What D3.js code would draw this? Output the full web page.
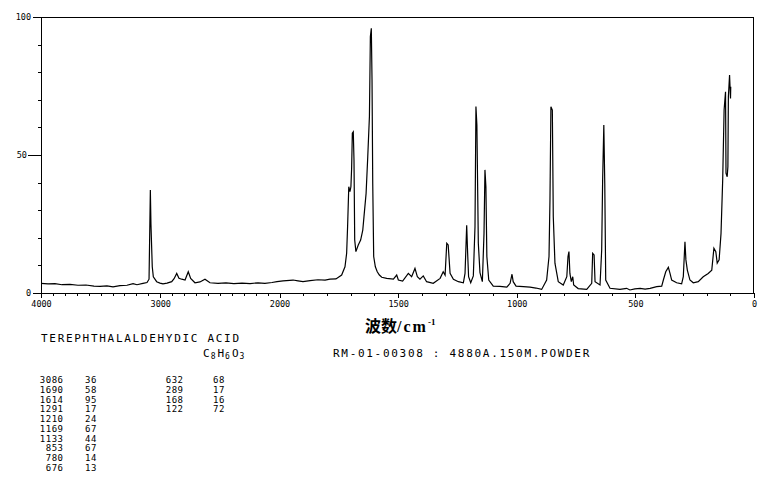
<!DOCTYPE html>
<html>
<head>
<meta charset="utf-8">
<script src="https://cdn.jsdelivr.net/npm/d3@7"></script>
<style>
  html, body { margin: 0; padding: 0; background: #fff; }
  svg { display: block; }
</style>
</head>
<body>
<svg id="chart" width="763" height="481"></svg>
<script>
// ---------- data ----------
const wavenumbers = [
  4000,3941,3883,3824,3757,3690,3623,3556,3505,3447,3396,3338,3279,3228,3195,3145,3111,3094,
  3083,3078,3067,3058,3030,3002,2977,2943,2904,2884,2862,2843,2820,2792,2765,2745,2709,2667,
  2625,2583,2516,2449,2382,2314,2247,2180,2122,2063,2021,1985,1943,1922,1901,1871,1838,1808,
  1787,1762,1738,1724,1717,1713,1708,1703,1699,1696,1693,1689,1686,1683,1678,1668,1658,1649,
  1644,1635,1628,1621,1617,1613,1610,1607,1603,1596,1588,1579,1569,1548,1520,1506,1499,1481,
  1457,1443,1429,1419,1408,1394,1380,1352,1323,1310,1302,1295,1289,1281,1267,1246,1225,1218,
  1211,1207,1203,1194,1183,1176,1172,1168,1162,1155,1145,1138,1134,1130,1126,1118,1099,1071,
  1042,1028,1020,1015,1003,972,944,919,895,874,864,860,856,850,846,839,825,804,
  789,784,780,776,770,764,760,741,705,684,680,674,670,649,642,638,633,629,
  625,607,565,537,523,502,480,459,438,410,389,382,372,361,354,347,326,305,
  298,291,287,281,270,256,235,214,193,178,169,161,155,147,139,132,126,120,
  118,113,110,108,103,99,98
];
const intensities = [
  3.5,3.3,3.4,3.0,3.1,2.8,2.9,2.5,2.4,2.6,2.2,2.7,2.8,3.4,3.0,3.5,3.8,5.0,
  37.3,25,9.5,5.9,4.1,3.6,3.3,3.6,4.1,5.2,7.1,5.3,5.0,4.7,7.7,5.3,3.7,4.0,
  5.0,3.7,3.5,3.7,3.4,3.6,3.4,3.7,3.5,3.8,4.1,4.4,4.7,4.4,4.1,4.5,4.8,4.7,
  5.0,5.1,6.5,9.5,14.4,24,38.5,36.7,38.5,45.2,57.9,58.4,48.2,19.2,15.0,17.4,19.2,22.8,
  27.6,36.1,49.4,63.9,92.9,95.9,77.2,39.7,13.2,9.5,7.7,6.5,5.7,5.3,5.0,6.5,4.7,4.3,
  7.1,5.9,8.9,5.9,5.0,6.2,4.1,3.5,5.3,7.7,6.5,18.0,17.4,7.1,5.0,4.1,3.7,7.1,
  24.5,14.4,5.9,3.7,6.2,24.0,67.6,60.9,18,7.4,4.1,21.6,44.6,38.5,13.2,4.7,2.5,2.4,
  2.1,3.5,6.8,4.1,2.5,2.3,2.1,1.8,1.3,4.7,13.2,33.7,67.5,66.3,27.6,10.8,4.1,2.9,
  5.9,13.2,15.0,7.1,4.1,5.9,2.9,1.6,1.3,3.5,14.4,13.8,4.1,2.9,15.6,40.9,60.9,39.7,
  4.7,1.7,1.3,1.7,1.1,1.5,1.7,1.4,1.7,2.3,2.5,4.7,7.7,9.3,7.1,4.7,3.7,3.3,
  5.9,18.6,12.0,8.3,4.7,3.7,4.1,5.9,7.1,8.3,16.2,15.0,10.8,12.0,21.6,40.9,66.3,72.9,
  43.4,42.1,45.8,71.1,79.0,70.5,74.7
];
const xMajorTicks = [4000, 3000, 2000, 1500, 1000, 500, 0];
const yMajorTicks = [0, 50, 100];
const compoundName = "TEREPHTHALALDEHYDIC ACID";
const formulaParts = [["C","8"],["H","6"],["O","3"]];
const sampleInfo = "RM-01-00308 : 4880A.150M.POWDER";
const peakWnCol1 = ["3086","1690","1614","1291","1210","1169","1133","853","780","676"];
const peakIntCol1 = ["36","58","95","17","24","67","44","67","14","13"];
const peakWnCol2 = ["632","289","168","122"];
const peakIntCol2 = ["68","17","16","72"];

// ---------- layout ----------
const svg = d3.select("#chart");
const L = 41, R = 754, T = 17, B = 293;
const x = d3.scaleLinear().domain([4000, 2000, 0]).range([L, 279.5, R]);
const y = d3.scaleLinear().domain([0, 100]).range([B, T]);
const monoFont = "'DejaVu Sans Mono', 'Liberation Mono', monospace";

// frame
svg.append("rect")
  .attr("x", L + 0.5).attr("y", T + 0.5)
  .attr("width", R - L - 1).attr("height", B - T)
  .attr("fill", "none").attr("stroke", "#000").attr("stroke-width", 1)
  .attr("shape-rendering", "crispEdges");

// x axis minor ticks
const xMinor = d3.range(0, 4001, 100).filter(v => !xMajorTicks.includes(v));
svg.append("g")
  .attr("transform", `translate(0,${B})`)
  .call(d3.axisBottom(x).tickValues(xMinor).tickSize(3).tickFormat(""))
  .call(g => g.select(".domain").remove())
  .call(g => g.selectAll("line").attr("shape-rendering", "crispEdges"));

// x axis major ticks + labels
svg.append("g")
  .attr("transform", `translate(0,${B})`)
  .call(d3.axisBottom(x).tickValues(xMajorTicks).tickSize(5).tickPadding(3).tickFormat(d3.format("d")))
  .call(g => g.select(".domain").remove())
  .call(g => g.selectAll("line").attr("shape-rendering", "crispEdges"))
  .call(g => g.selectAll("text").attr("font-family", monoFont).attr("font-size", 8.5).attr("fill", "#000"));

// y axis minor ticks
const yMinor = d3.range(0, 101, 10).filter(v => !yMajorTicks.includes(v));
svg.append("g")
  .attr("transform", `translate(${L},0)`)
  .call(d3.axisLeft(y).tickValues(yMinor).tickSize(3).tickFormat(""))
  .call(g => g.select(".domain").remove())
  .call(g => g.selectAll("line").attr("shape-rendering", "crispEdges"));

// y axis major ticks + labels
svg.append("g")
  .attr("transform", `translate(${L},0)`)
  .call(d3.axisLeft(y).tickValues(yMajorTicks).tickSize(8).tickPadding(2).tickFormat(d3.format("d")))
  .call(g => g.select(".domain").remove())
  .call(g => g.selectAll("line").attr("shape-rendering", "crispEdges"))
  .call(g => g.selectAll("text").attr("font-family", monoFont).attr("font-size", 8.5).attr("fill", "#000"))
  .call(g => g.selectAll(".tick").filter(d => d === 50)
     .call(t => t.select("line").attr("x2", -13))
     .call(t => t.select("text").attr("x", -14)));

// spectrum
const spectrum = wavenumbers.map((w, i) => ({ w, v: intensities[i] }));
svg.append("path")
  .datum(spectrum)
  .attr("fill", "none")
  .attr("stroke", "#000")
  .attr("stroke-width", 1.2)
  .attr("stroke-linejoin", "miter")
  .attr("d", d3.line().x(d => x(d.w)).y(d => y(d.v)));

// x-axis title
const xt = svg.append("text")
  .attr("x", 365).attr("y", 332)
  .attr("fill", "#000");
xt.append("tspan").attr("font-family", "'Noto Sans CJK SC', sans-serif").attr("font-weight", "bold").attr("font-size", 16).text("波数");
xt.append("tspan").attr("font-family", "'Liberation Serif', serif").attr("font-weight", "bold").attr("font-size", 16).attr("letter-spacing", 2).text("/cm");
xt.append("tspan").attr("font-family", "'Liberation Serif', serif").attr("font-weight", "bold").attr("font-size", 9).attr("dy", -7).text("-1");

// compound name
svg.append("text")
  .attr("x", 41).attr("y", 342)
  .attr("font-family", monoFont).attr("font-size", 11)
  .attr("letter-spacing", 1.7).attr("fill", "#000")
  .text(compoundName);

// formula
const ft = svg.append("text").attr("x", 203).attr("y", 357)
  .attr("font-family", monoFont).attr("fill", "#000");
formulaParts.forEach(([el, n], i) => {
  ft.append("tspan").attr("font-size", 11).attr("dy", i === 0 ? 0 : -2).attr("dx", i === 0 ? 0 : 2).text(el);
  ft.append("tspan").attr("font-size", 8).attr("dy", 2).attr("dx", 1).text(n);
});

// sample info
svg.append("text")
  .attr("x", 333).attr("y", 357)
  .attr("font-family", monoFont).attr("font-size", 11)
  .attr("letter-spacing", 1.7).attr("fill", "#000")
  .text(sampleInfo);

// peak table
const rowY = i => 383.3 + i * 9.73;
function column(vals, xPos, anchor) {
  svg.append("g").selectAll("text").data(vals).join("text")
    .attr("x", xPos).attr("y", (d, i) => rowY(i))
    .attr("text-anchor", anchor)
    .attr("font-family", monoFont).attr("font-size", 9)
    .attr("letter-spacing", 0.5).attr("fill", "#000")
    .text(d => d);
}
column(peakWnCol1, 63.5, "end");
column(peakIntCol1, 85, "start");
column(peakWnCol2, 183.5, "end");
column(peakIntCol2, 213, "start");
</script>
</body>
</html>
